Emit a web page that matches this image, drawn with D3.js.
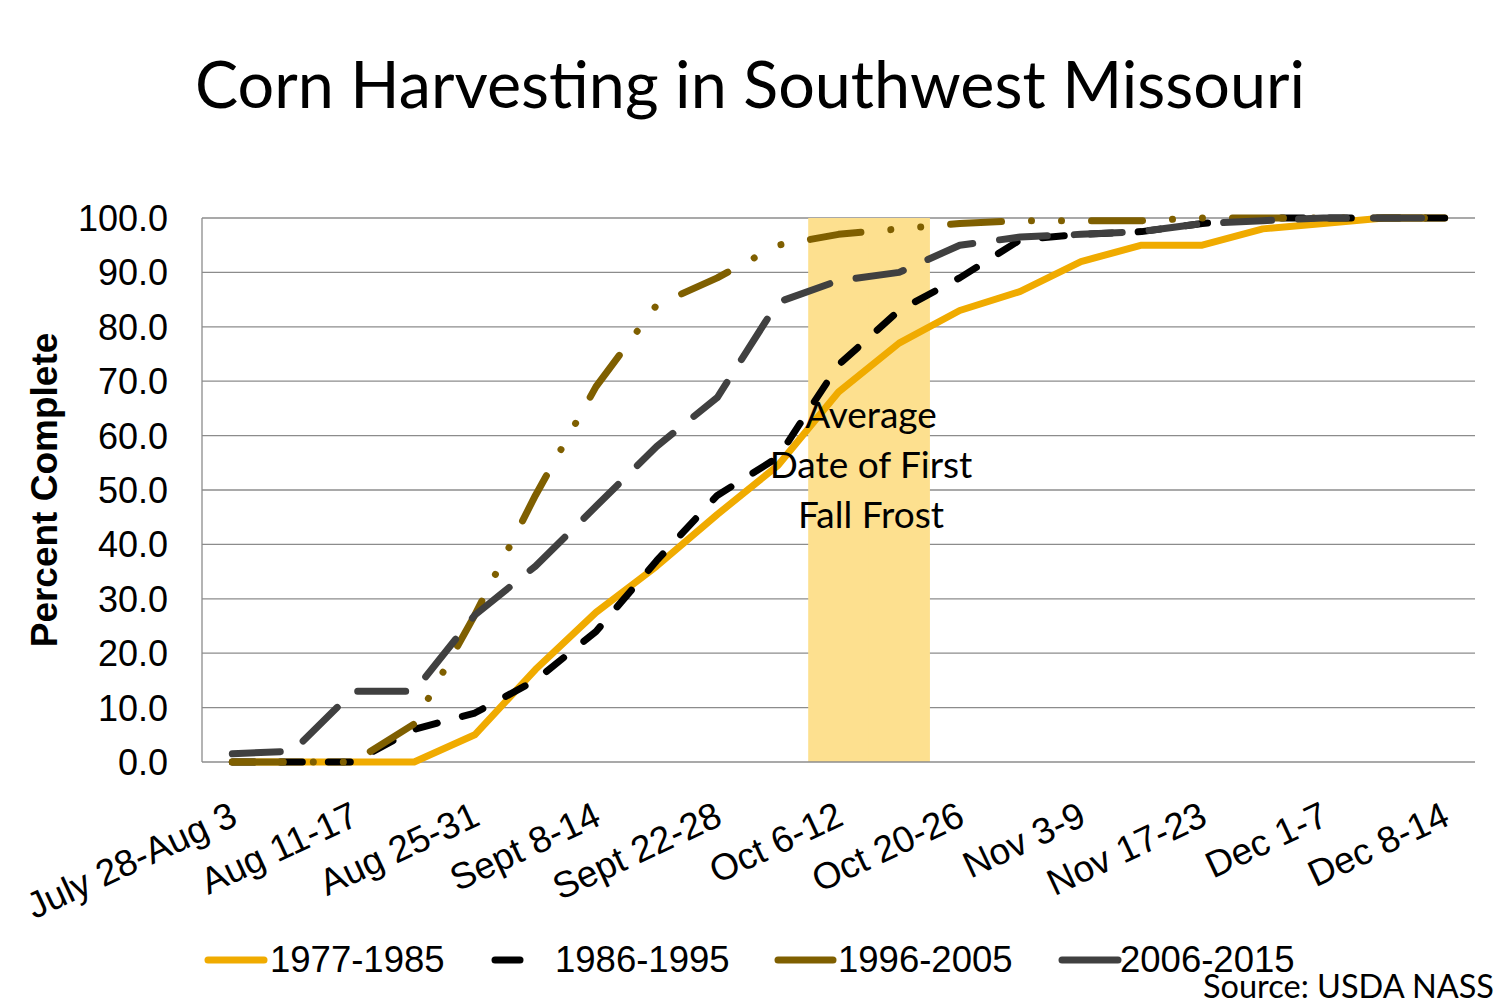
<!DOCTYPE html>
<html>
<head>
<meta charset="utf-8">
<script src="https://cdn.jsdelivr.net/npm/d3@7"></script>
<style>
  body { margin: 0; background: #fff; }
  svg { display: block; }
</style>
</head>
<body>
<svg id="main_svg" width="1500" height="1000"></svg>
<script>
// weekly categories (index 19 carries no label in the source chart)
const weeks = [
  'July 28-Aug 3', 'Aug 4-10', 'Aug 11-17', 'Aug 18-24', 'Aug 25-31',
  'Sept 1-7', 'Sept 8-14', 'Sept 15-21', 'Sept 22-28', 'Sept 29-Oct 5',
  'Oct 6-12', 'Oct 13-19', 'Oct 20-26', 'Oct 27-Nov 2', 'Nov 3-9',
  'Nov 10-16', 'Nov 17-23', 'Nov 24-30', 'Dec 1-7', '', 'Dec 8-14'
];
const shownWeeks = [0, 2, 4, 6, 8, 10, 12, 14, 16, 18, 20];

const s1977 = [0, 0, 0, 0, 5, 17, 27.5, 36, 45.5, 54.5, 68, 77, 83, 86.5, 92, 95, 95, 98, 99, 100, 100];
const s1986 = [0, 0, 0, 6, 9, 15, 24, 37, 49, 56, 73, 83, 89, 96, 97, 97.5, 99, 100, 100, 100, 100];
const s1996 = [0, 0, 0, 7, 27, 49, 69, 84, 89, 95, 97, 98, 99, 99.5, 99.5, 99.5, 100, 100, 100, 100, 100];
const s2006 = [1.5, 2, 13, 13, 27, 36, 47, 58, 67, 84.5, 88.5, 90, 95, 96.5, 97, 97.5, 99, 99.5, 100, 100, 100];

// weeks covered by the frost band
const frostWeeks = [10, 11];

const yTicks = [0, 10, 20, 30, 40, 50, 60, 70, 80, 90, 100];

const series = [
  { name: '1977-1985', values: s1977, color: '#F0AB00', dash: null },
  { name: '1986-1995', values: s1986, color: '#000000', dash: '22 26' },
  { name: '1996-2005', values: s1996, color: '#7F5F00', dash: '51 30 0.01 30 0.01 30' },
  { name: '2006-2015', values: s2006, color: '#404040', dash: '48 27' }
];

const svg = d3.select('#main_svg');
const plot = { left: 202, right: 1475, top: 218, bottom: 762 };

const x = d3.scaleBand()
  .domain(d3.range(weeks.length))
  .range([plot.left, plot.right])
  .padding(0);

const y = d3.scaleLinear()
  .domain([0, 100])
  .range([plot.bottom, plot.top]);

const cx = function(i) { return x(i) + x.bandwidth() / 2; };

// title
svg.append('text')
  .attr('x', 750)
  .attr('y', 108)
  .attr('text-anchor', 'middle')
  .attr('textLength', 1110)
  .attr('lengthAdjust', 'spacingAndGlyphs')
  .style('font-family', 'Lato, "Open Sans", sans-serif')
  .style('font-size', '66px')
  .text('Corn Harvesting in Southwest Missouri');

// gridlines
svg.append('g')
  .selectAll('line')
  .data(yTicks.filter(function(d) { return d > 0; }))
  .join('line')
  .attr('x1', plot.left)
  .attr('x2', plot.right)
  .attr('y1', function(d) { return y(d); })
  .attr('y2', function(d) { return y(d); })
  .attr('stroke', '#8c8c8c')
  .attr('stroke-width', 1.3);

// frost band
svg.append('g')
  .selectAll('rect')
  .data(frostWeeks)
  .join('rect')
  .attr('x', function(d) { return x(d); })
  .attr('width', x.bandwidth() + 0.5)
  .attr('y', y(100))
  .attr('height', y(0) - y(100))
  .attr('fill', '#FDE08F');

// axes lines
svg.append('line')
  .attr('x1', plot.left).attr('x2', plot.left)
  .attr('y1', plot.top).attr('y2', plot.bottom)
  .attr('stroke', '#8c8c8c').attr('stroke-width', 1.3);
svg.append('line')
  .attr('x1', plot.left).attr('x2', plot.right)
  .attr('y1', plot.bottom).attr('y2', plot.bottom)
  .attr('stroke', '#8c8c8c').attr('stroke-width', 1.3);

// y tick labels
svg.append('g')
  .selectAll('text')
  .data(yTicks)
  .join('text')
  .attr('x', 168)
  .attr('y', function(d) { return y(d); })
  .attr('dy', '0.36em')
  .attr('text-anchor', 'end')
  .style('font-family', '"Liberation Sans", Arial, sans-serif')
  .style('font-size', '36px')
  .text(function(d) { return d3.format('.1f')(d); });

// y axis title
svg.append('g')
  .attr('transform', 'translate(57,490)')
  .append('text')
  .attr('transform', 'rotate(-90)')
  .attr('text-anchor', 'middle')
  .style('font-family', '"Liberation Sans", Arial, sans-serif')
  .style('font-size', '37px')
  .style('font-weight', 'bold')
  .text('Percent Complete');

// x tick labels
svg.append('g')
  .selectAll('text')
  .data(shownWeeks)
  .join('text')
  .attr('transform', function(d) {
    return 'translate(' + (cx(d) + 7) + ',824) rotate(-25)';
  })
  .attr('text-anchor', 'end')
  .style('font-family', '"Liberation Sans", Arial, sans-serif')
  .style('font-size', '37px')
  .text(function(d) { return weeks[d]; });

// series lines
const line = d3.line()
  .x(function(d, i) { return cx(i); })
  .y(function(d) { return y(d); });

svg.append('g')
  .selectAll('path')
  .data(series)
  .join('path')
  .attr('d', function(d) { return line(d.values); })
  .attr('fill', 'none')
  .attr('stroke', function(d) { return d.color; })
  .attr('stroke-width', 7)
  .attr('stroke-linecap', 'round')
  .attr('stroke-linejoin', 'round')
  .attr('stroke-dasharray', function(d) { return d.dash; });

// frost annotation
const note = svg.append('text')
  .attr('text-anchor', 'middle')
  .style('font-family', 'Lato, "Open Sans", sans-serif')
  .style('font-size', '37px');
['Average', 'Date of First', 'Fall Frost'].forEach(function(t, i) {
  note.append('tspan')
    .attr('x', 871)
    .attr('y', 428 + i * 50)
    .text(t);
});

// legend
const legendPos = [
  { lx: 208, len: 56, tx: 270 },
  { lx: 495, len: 25, tx: 555 },
  { lx: 778, len: 55, tx: 838 },
  { lx: 1062, len: 56, tx: 1120 }
];
const legend = svg.append('g')
  .selectAll('g')
  .data(series)
  .join('g');

legend.append('line')
  .attr('x1', function(d, i) { return legendPos[i].lx; })
  .attr('x2', function(d, i) { return legendPos[i].lx + legendPos[i].len; })
  .attr('y1', 960)
  .attr('y2', 960)
  .attr('stroke', function(d) { return d.color; })
  .attr('stroke-width', 7)
  .attr('stroke-linecap', 'round');

legend.append('text')
  .attr('x', function(d, i) { return legendPos[i].tx; })
  .attr('y', 972)
  .style('font-family', '"Liberation Sans", Arial, sans-serif')
  .style('font-size', '36.5px')
  .text(function(d) { return d.name; });

// source note
svg.append('text')
  .attr('x', 1203)
  .attr('y', 998)
  .style('font-family', 'Lato, "Open Sans", sans-serif')
  .style('font-size', '32.5px')
  .text('Source: USDA NASS');
</script>
</body>
</html>
